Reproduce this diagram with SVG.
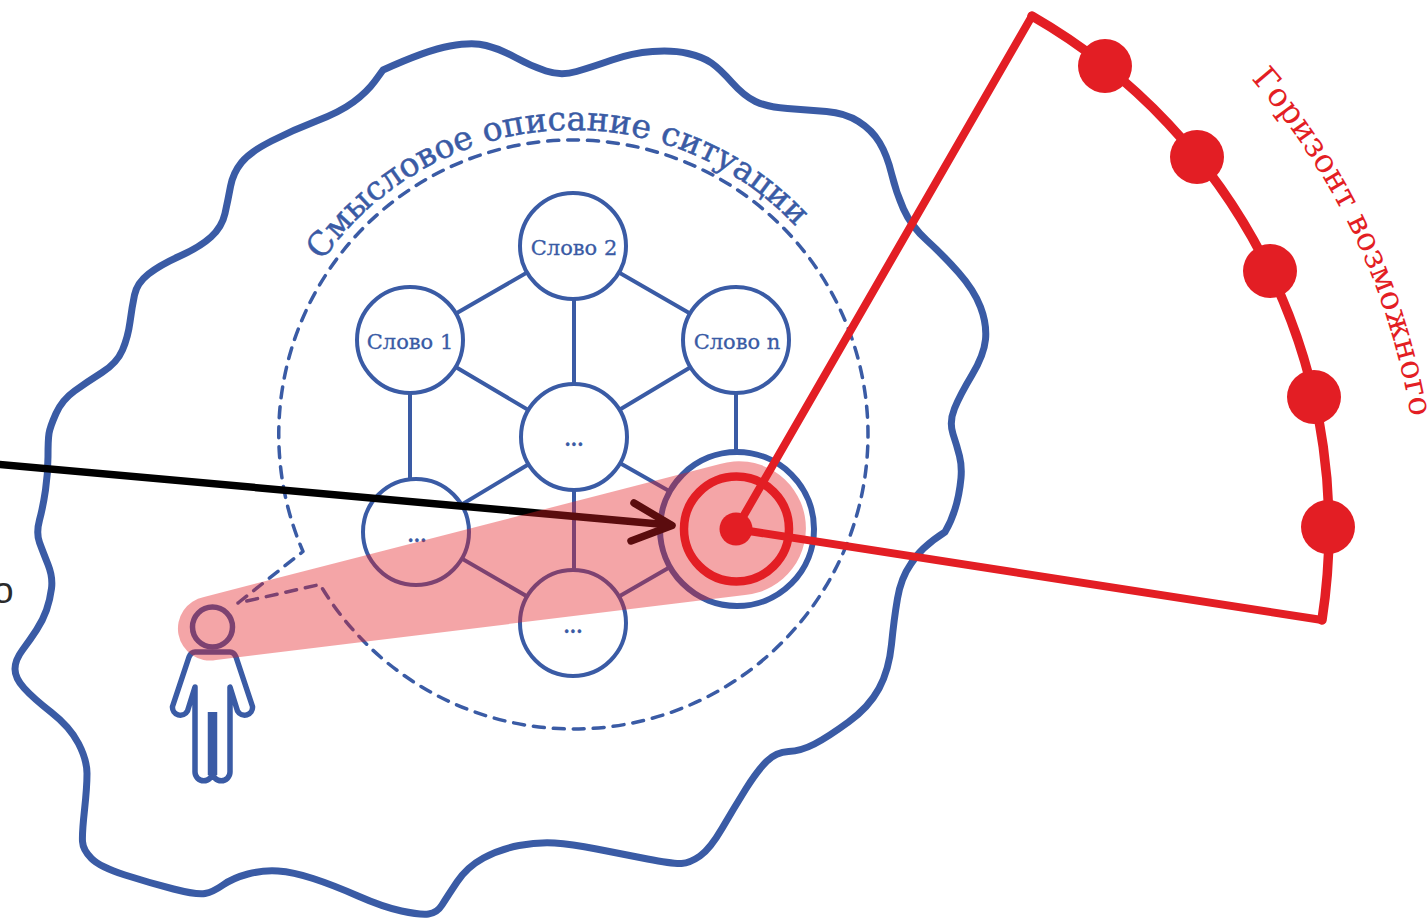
<svg xmlns="http://www.w3.org/2000/svg" width="1427" height="919" viewBox="0 0 1427 919">
<style>
.b{fill:none;stroke:#3a5ba5;stroke-linecap:round;stroke-linejoin:round}
.n{fill:#fff;stroke:#3a5ba5;stroke-width:4}
.t{font-family:"DejaVu Serif","Liberation Serif",serif;fill:#3a5ba5;stroke:#3a5ba5;stroke-width:.3;text-anchor:middle}
.r{fill:none;stroke:#e31e24;stroke-linecap:round;stroke-linejoin:round}
.d{fill:#e31e24}
</style>
<defs>
<path id="arc1" d="M268,435 A305,305 0 0 1 878,435"/>
<path id="arc2" d="M736,-155 A684,684 0 0 1 1420,529"/>
</defs>
<rect width="1427" height="919" fill="#fff"/>
<text x="-7" y="603" font-family="'Liberation Sans',sans-serif" font-size="37" fill="#2b2b2b">о</text>
<g id="field">
<path class="b" stroke-width="7" d="M383,70 Q427,50 450,46 Q473,42 486,45.500 Q500,49 515.500,57.500 Q531,66 546,71 Q561,76 576.500,71.500 Q592,67 612,60 Q632,53 652.500,51.500 Q673,50 688,53.500 Q703,57 711.500,63 Q720,69 732,82.500 Q744,96 755.500,101.500 Q767,107 787.500,108.500 Q808,110 826.500,111.500 Q845,113 858.500,121.500 Q872,130 879.500,142.500 Q887,155 891.500,173.500 Q896,192 903.500,209 Q911,226 927,240.500 Q943,255 958.500,272.500 Q974,290 980.500,307 Q987,324 985.500,339.500 Q984,355 972,375 Q960,395 954.500,408.500 Q949,422 953,434 Q957,446 959.500,456 Q962,466 961,478 Q958,510 945,532 Q920,548 910.500,564.500 Q901,578 897.500,598.500 Q894,619 891.500,644.500 Q889,670 879,688.500 Q869,707 848.500,722 Q828,737 814.500,744 Q801,751 788.500,751.500 Q776,752 766.500,761.500 Q757,771 745.500,789.500 Q734,808 722,828.500 Q710,849 700,856 Q690,863 681.500,863.500 Q673,864 647.500,859 Q622,854 596.500,849 Q571,844 554.500,843 Q538,842 519,845.500 Q500,849 483.500,858 Q467,867 457,882 Q447,897 442,905 Q437,913 428.500,914 Q420,915 401.500,911 Q383,907 358,896 Q333,885 313,878.500 Q293,872 278,871 Q263,870 248,874 Q233,878 223,885 Q213,892 205,893.500 Q197,895 173.500,889 Q150,883 125,875 Q100,867 91.500,858.500 Q83,850 82.500,841.500 Q82,833 84.500,810 Q87,787 87,773.500 Q87,760 78.500,743.500 Q70,727 51.500,712.500 Q33,698 24,688 Q15,678 15,669 Q15,660 22.500,650 Q30,640 36.500,630 Q43,620 46.500,610 Q50,600 51.500,588.500 Q53,577 48,564.500 Q43,552 39.500,542.500 Q36,533 39.500,520 Q43,507 45.500,490 Q48,473 48,456.500 Q48,440 49,433.500 Q50,427 56,413.500 Q62,400 74.500,391 Q87,382 102,372.500 Q117,363 122.500,350 Q128,337 130,322 Q132,307 134.500,295 Q137,283 148.500,274 Q160,265 180,256 Q200,247 211,237 Q222,227 225,213.500 Q228,200 230.500,186.500 Q233,173 241.500,162.500 Q250,152 271.500,141 Q293,130 316.500,121 Q340,112 353.500,102 Q367,92 375,81 Z"/>
</g>
<g id="title"><text font-family="'DejaVu Serif','Liberation Serif',serif" font-size="33" fill="#3a5ba5" stroke="#3a5ba5" stroke-width=".5"><textPath href="#arc1" startOffset="185">Смысловое описание ситуации</textPath></text></g>
<g id="horizon-label"><text font-family="'DejaVu Serif','Liberation Serif',serif" font-size="32.500" fill="#e31e24"><textPath href="#arc2" startOffset="583">Горизонт возможного</textPath></text></g>
<g id="scope"><path class="b" stroke-width="3.500" stroke-dasharray="11 9" d="M238,603 L303,551.500 A294.500,294.500 0 0 1 573.500,140 A294.500,294.500 0 0 1 573.500,729 A294.500,294.500 0 0 1 320,584.500 L238,603"/></g>
<g id="connectors" class="b" stroke-width="4">
<line x1="573" y1="246" x2="410" y2="340"/>
<line x1="573" y1="246" x2="736" y2="340"/>
<line x1="574" y1="246" x2="574" y2="437"/>
<line x1="410" y1="340" x2="574" y2="437"/>
<line x1="736" y1="340" x2="574" y2="437"/>
<line x1="410" y1="340" x2="410" y2="532"/>
<line x1="736" y1="340" x2="736" y2="529"/>
<line x1="574" y1="437" x2="416" y2="532"/>
<line x1="574" y1="437" x2="736" y2="529"/>
<line x1="574" y1="437" x2="574" y2="623"/>
<line x1="416" y1="532" x2="573" y2="623"/>
<line x1="573" y1="623" x2="736" y2="529"/>
</g>
<g id="n2"><circle class="n" cx="573" cy="246" r="53"/><text class="t" x="574" y="255" font-size="21">Слово 2</text></g>
<g id="n1"><circle class="n" cx="410" cy="340" r="53"/><text class="t" x="410" y="349" font-size="21">Слово 1</text></g>
<g id="nn"><circle class="n" cx="736" cy="340" r="53"/><text class="t" x="737" y="349" font-size="21">Слово n</text></g>
<g id="nc"><circle class="n" cx="574" cy="437" r="53"/><text class="t" x="574" y="446" font-size="18" font-weight="bold">...</text></g>
<g id="nl"><circle class="n" cx="416" cy="532" r="53"/><text class="t" x="417" y="542" font-size="18" font-weight="bold">...</text></g>
<g id="nb"><circle class="n" cx="573" cy="623" r="53"/><text class="t" x="573" y="633" font-size="18" font-weight="bold">...</text></g>
<g id="nt"><circle cx="737" cy="529" r="77" fill="#fff" stroke="#3a5ba5" stroke-width="6"/></g>
<g id="person">
<circle cx="212.500" cy="627" r="20" fill="none" stroke="#3a5ba5" stroke-width="5.500"/>
<path class="b" stroke-width="5.500" d="M195,687 L187.500,711 A8,8 0 0 1 172.500,706.500 L189,657 Q191,652 195,652 H230 Q234,652 236,657 L252.500,706.500 A8,8 0 0 1 237.500,711 L230,687 V772 A8.750,8.750 0 0 1 212.500,772 A8.750,8.750 0 0 1 195,772 Z"/>
<line x1="212.500" y1="712" x2="212.500" y2="775" stroke="#3a5ba5" stroke-width="9.500"/>
</g>
<g id="arrow" fill="none" stroke="#000" stroke-width="7.500" stroke-linecap="round" stroke-linejoin="round">
<line x1="-5" y1="464" x2="670" y2="525"/>
<polyline points="634,503 672,525.500 631,541"/>
</g>
<g id="cone" opacity="0.4" fill="#e31e24">
<path d="M204,597 L720,464 A67,67 0 1 1 745,595 L216,660 A32,32 0 0 1 204,597 Z"/>
</g>
<g id="target">
<circle class="r" cx="736.500" cy="529" r="52.500" stroke-width="8.500"/>
<path class="r" stroke-width="8" d="M736,529 L1032,16 M736,529 L1322,620"/>
<path class="r" stroke-width="9.500" d="M1032,16 A592,592 0 0 1 1322,620"/>
<circle class="d" cx="736" cy="529" r="16.500"/>
<circle class="d" cx="1105" cy="66" r="27"/>
<circle class="d" cx="1197" cy="157" r="27"/>
<circle class="d" cx="1270" cy="271" r="27"/>
<circle class="d" cx="1314" cy="397" r="27"/>
<circle class="d" cx="1328" cy="527" r="27"/>
</g>
</svg>
